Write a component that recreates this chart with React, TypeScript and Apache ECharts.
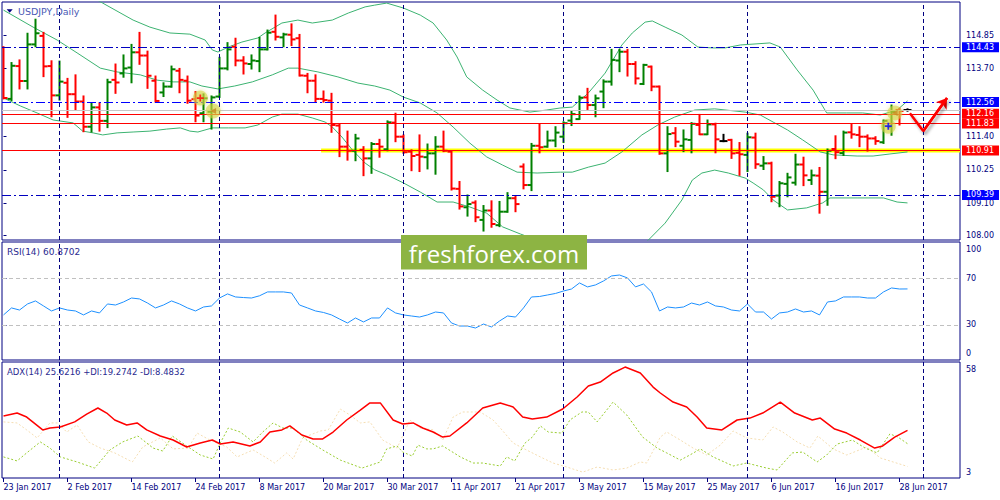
import React, { useEffect, useRef } from "react";
import * as echarts from "echarts";

// ---------------- data ----------------
const dateLabels = ["23 Jan 2017", "2 Feb 2017", "14 Feb 2017", "24 Feb 2017", "8 Mar 2017", "20 Mar 2017", "30 Mar 2017", "11 Apr 2017", "21 Apr 2017", "3 May 2017", "15 May 2017", "25 May 2017", "6 Jun 2017", "16 Jun 2017", "28 Jun 2017"];
const dateLabelBars = [0, 8, 16, 24, 32, 40, 48, 56, 64, 72, 80, 88, 96, 104, 112];
const monthStartBars = [7, 27, 50, 70, 93, 115];

const opens = [114.42, 112.67, 113.79, 113.28, 114.53, 114.82, 113.79, 112.79, 113.22, 112.83,
  112.58, 111.72, 112.38, 111.92, 113.32, 113.54, 113.74, 114.26, 114.15, 113.29,
  112.89, 113.09, 113.63, 113.29, 112.66, 112.18, 112.23, 112.75, 113.71, 114.45,
  113.98, 113.86, 113.96, 114.36, 114.96, 114.77, 114.86, 114.74, 113.46, 113.29,
  112.67, 112.61, 111.76, 111.04, 110.90, 110.93, 110.64, 111.13, 110.95, 111.86,
  111.38, 110.87, 110.76, 110.68, 110.81, 111.04, 110.87, 109.60, 108.97, 109.13,
  108.54, 108.86, 108.36, 108.82, 109.28, 110.36, 109.73, 111.07, 111.04, 111.25,
  111.38, 111.93, 111.98, 112.72, 112.46, 112.92, 113.26, 113.98, 114.28, 113.86,
  113.18, 113.77, 113.09, 110.81, 111.50, 111.07, 111.27, 111.78, 111.46, 111.80,
  111.23, 111.27, 110.83, 110.76, 111.35, 110.39, 110.47, 109.37, 109.77, 109.81,
  110.43, 109.90, 110.05, 109.50, 110.96, 110.82, 111.53, 111.44, 111.38, 111.32,
  111.19, 111.72, 112.29, 112.29];
const highs = [114.45, 113.91, 114.00, 114.91, 115.39, 114.94, 113.97, 113.96, 113.37, 113.49,
  112.77, 112.54, 112.54, 113.34, 113.86, 114.17, 114.53, 114.94, 114.30, 113.45,
  113.22, 113.79, 113.71, 113.45, 112.92, 112.84, 112.77, 114.09, 114.59, 114.74,
  114.11, 114.17, 114.77, 115.02, 115.53, 114.91, 115.23, 114.87, 113.54, 113.49,
  112.94, 112.86, 111.81, 111.57, 111.46, 111.04, 111.18, 111.29, 111.92, 112.18,
  111.44, 110.93, 111.44, 111.13, 111.38, 111.57, 110.90, 109.85, 109.39, 109.19,
  109.03, 109.19, 109.17, 109.47, 109.37, 110.45, 111.15, 111.80, 111.57, 111.72,
  111.89, 112.26, 112.77, 113.03, 112.80, 113.32, 114.36, 114.36, 114.36, 113.94,
  113.85, 113.79, 113.11, 111.72, 111.69, 111.61, 111.86, 112.14, 111.95, 111.84,
  111.46, 111.29, 111.18, 111.50, 111.50, 110.70, 110.51, 109.85, 110.13, 110.78,
  110.68, 110.24, 110.33, 110.96, 111.41, 111.57, 111.80, 111.72, 111.44, 111.38,
  111.95, 112.46, 112.35, 112.33];
const lows = [112.67, 112.61, 113.01, 113.01, 114.45, 113.43, 112.06, 112.63, 112.04, 112.29,
  111.55, 111.54, 111.57, 111.69, 112.86, 113.41, 113.22, 113.85, 113.03, 112.56,
  112.75, 113.07, 112.88, 112.52, 111.89, 111.89, 111.64, 112.72, 113.66, 113.80,
  113.52, 113.69, 113.60, 114.34, 114.68, 114.45, 114.49, 113.45, 112.88, 112.56,
  112.56, 111.53, 110.70, 110.58, 110.56, 110.05, 110.13, 110.68, 110.90, 111.21,
  110.81, 110.22, 110.19, 110.28, 110.10, 110.87, 109.56, 108.91, 108.67, 108.48,
  108.16, 108.29, 108.31, 108.80, 108.82, 109.60, 109.54, 110.83, 111.02, 111.04,
  111.18, 111.76, 111.97, 112.31, 112.06, 112.37, 113.14, 113.60, 113.45, 113.18,
  113.16, 112.95, 110.78, 110.19, 111.04, 110.87, 110.83, 111.45, 111.45, 110.83,
  111.21, 110.64, 110.06, 110.19, 110.30, 110.26, 109.16, 108.99, 109.33, 109.73,
  109.71, 109.75, 108.77, 109.04, 110.63, 110.74, 111.33, 111.04, 110.89, 111.12,
  111.15, 111.43, 111.78, 112.25];
const closes = [112.70, 113.80, 113.28, 114.53, 114.91, 113.78, 112.79, 113.26, 112.83, 112.58,
  111.72, 112.38, 111.92, 113.24, 113.23, 113.71, 114.26, 114.15, 113.46, 112.60,
  113.09, 113.68, 113.32, 112.61, 112.10, 112.69, 112.72, 113.71, 114.36, 113.98,
  113.88, 113.98, 114.36, 114.93, 114.79, 114.87, 114.70, 113.47, 113.29, 112.67,
  112.63, 111.78, 111.04, 110.90, 111.32, 110.64, 111.13, 111.04, 111.87, 111.38,
  110.85, 110.72, 110.70, 110.81, 111.04, 110.90, 109.61, 109.00, 109.08, 108.63,
  108.86, 108.40, 108.82, 109.28, 109.08, 109.73, 111.07, 111.02, 111.25, 111.52,
  111.84, 112.15, 112.71, 112.46, 112.69, 113.26, 114.00, 114.28, 113.86, 113.37,
  113.83, 113.09, 110.81, 111.47, 111.21, 111.29, 111.82, 111.46, 111.80, 111.29,
  111.23, 110.81, 110.78, 111.36, 110.44, 110.47, 109.33, 109.79, 109.99, 110.43,
  110.06, 110.06, 109.50, 110.90, 110.85, 111.52, 111.46, 111.38, 111.32, 111.23,
  111.92, 112.23, 112.26, 112.29];

// Bollinger bands read at [bar, price]
const bbUpper = [[0, 117.8], [4, 117.2], [8, 116.6], [12.4, 115.94], [16.2, 115.36], [18.3, 115.12], [20.8, 114.92], [23.3, 114.88], [25.2, 114.68], [26.1, 114.34], [26.8, 114.27], [28.1, 114.44], [29.8, 114.61], [31.8, 114.75], [32.7, 114.92], [34.8, 115.26], [36.8, 115.36], [38.6, 115.26], [41.1, 115.36], [43.1, 115.60], [45.2, 115.81], [46.4, 115.87], [47.9, 115.94], [50.0, 115.77], [52.1, 115.53], [53.7, 115.26], [55.4, 114.68], [56.7, 114.10], [57.9, 113.42], [59.9, 112.97], [61.7, 112.63], [63.3, 112.36], [65.8, 112.22], [67.9, 112.29], [69.6, 112.36], [71.1, 112.39], [73.1, 112.87], [75.2, 113.55], [77.3, 114.51], [78.6, 114.92], [80.2, 115.29], [81.1, 115.33], [82.7, 115.12], [84.8, 114.85], [86.8, 114.44], [88.6, 114.41], [90.2, 114.41], [92.1, 114.51], [95.8, 114.58], [97.1, 114.44], [99.2, 113.66], [101.2, 112.97], [102.9, 112.19], [105.4, 112.19], [107.4, 112.19], [109.6, 112.12], [111.7, 112.29], [113, 112.60]];
const bbMiddle = [[0, 115.70], [3.7, 115.12], [6.7, 114.68], [9.2, 114.24], [12.1, 113.72], [14.2, 113.59], [17.1, 113.49], [19.2, 113.31], [21.2, 113.25], [23.3, 113.25], [24.8, 113.11], [26.8, 113.01], [28.9, 113.11], [31.1, 113.25], [33.6, 113.49], [35.6, 113.72], [36.8, 113.72], [39.3, 113.59], [41.8, 113.42], [44.3, 113.21], [46.4, 113.11], [48.3, 112.97], [50.0, 112.73], [52.1, 112.53], [54.2, 112.19], [56.2, 111.71], [58.3, 111.16], [60.4, 110.69], [62.4, 110.41], [64.2, 110.17], [66.7, 110.14], [69.6, 110.17], [71.1, 110.17], [73.1, 110.34], [75.2, 110.48], [77.3, 110.86], [79.8, 111.44], [81.8, 111.78], [83.9, 112.05], [86.4, 112.29], [88.9, 112.33], [92.7, 112.22], [94.6, 112.12], [96.2, 111.88], [98.0, 111.61], [99.9, 111.27], [102.1, 110.86], [103.7, 110.76], [106.7, 110.72], [108.7, 110.72], [110.8, 110.79], [113, 110.86]];
const bbLower = [[0, 112.70], [2.1, 112.43], [4.2, 112.19], [6.2, 111.95], [8.7, 111.85], [9.9, 111.57], [11.2, 111.51], [12.4, 111.44], [14.2, 111.51], [16.2, 111.54], [18.3, 111.57], [20.4, 111.64], [22.1, 111.68], [23.3, 111.57], [24.3, 111.54], [26.1, 111.68], [28.1, 111.68], [30.2, 111.68], [31.8, 111.78], [33.6, 112.05], [34.8, 112.15], [36.8, 112.15], [38.6, 112.02], [40.2, 111.88], [41.1, 111.71], [42.3, 111.37], [43.6, 110.93], [45.2, 110.48], [46.4, 110.25], [47.9, 110.08], [50.0, 109.80], [52.1, 109.49], [54.2, 109.15], [56.2, 109.15], [58.3, 108.98], [60.4, 108.77], [62.4, 108.30], [64.6, 108.06], [66.7, 107.85], [69, 107.7], [72, 107.5], [75, 107.3], [77, 107.2], [79, 107.45], [80.6, 107.85], [82.7, 108.43], [84.8, 109.22], [86.1, 109.90], [87.3, 110.14], [88.9, 110.24], [90.6, 110.14], [92.7, 109.97], [93.7, 109.80], [95.0, 109.56], [96.2, 109.22], [98.0, 108.88], [100.4, 108.95], [102.4, 109.12], [103.3, 109.29], [106.7, 109.29], [110.0, 109.29], [111.7, 109.15], [113, 109.12]];

const rsiValues = [38.6, 44.6, 42.8, 48.0, 50.6, 46.3, 42.0, 44.6, 42.8, 42.0,
  38.6, 42.0, 40.3, 48.0, 47.1, 49.7, 53.1, 52.3, 48.8, 44.6,
  47.1, 50.6, 48.0, 44.6, 42.0, 45.4, 46.3, 53.1, 56.6, 54.0,
  53.5, 53.1, 55.0, 58.3, 58.3, 58.3, 57.4, 47.1, 44.6, 42.0,
  40.7, 38.6, 35.1, 31.7, 36.0, 32.6, 36.0, 36.0, 44.6, 40.3,
  38.6, 37.7, 36.8, 38.6, 41.1, 40.3, 31.7, 29.1, 29.1, 27.4,
  30.8, 28.3, 33.4, 37.7, 36.8, 44.6, 54.0, 54.4, 55.7, 57.0,
  59.1, 60.8, 66.0, 62.6, 64.3, 67.7, 72.0, 72.8, 70.3, 62.6,
  65.1, 58.3, 42.0, 45.4, 44.6, 45.4, 48.8, 47.1, 49.7, 46.3,
  45.4, 42.8, 42.0, 48.0, 41.1, 41.1, 35.1, 40.3, 41.1, 43.7,
  41.1, 42.0, 38.6, 49.7, 50.6, 54.0, 54.0, 54.0, 53.1, 53.1,
  58.3, 61.7, 60.8, 60.87];

const adxLine = [[0, 32.4], [1.7, 33.8], [2.9, 31.9], [4.9, 25.8], [5.8, 26.7], [7.1, 27.2], [8.9, 29.6], [10.4, 33.3], [11.8, 36.2], [12.9, 33.8], [13.9, 30.5], [15.4, 28.1], [16.7, 29.1], [17.9, 25.8], [19.6, 22.9], [21.2, 21.0], [22.9, 17.7], [24.6, 19.6], [26.1, 21.0], [27.1, 19.1], [28.7, 20.1], [30.8, 18.2], [32.1, 20.1], [33.3, 24.8], [34.8, 25.8], [35.8, 27.7], [37.3, 23.4], [38.7, 21.5], [39.9, 21.5], [41.2, 24.8], [42.9, 30.5], [44.6, 35.2], [45.8, 38.6], [47.1, 38.6], [48.7, 30.5], [49.9, 28.6], [51.2, 29.1], [52.4, 26.7], [53.7, 24.8], [54.9, 22.4], [55.8, 22.9], [57.9, 29.1], [59.9, 36.2], [62.1, 38.6], [63.7, 36.7], [64.9, 31.9], [66.1, 31.0], [67.9, 31.9], [69.9, 35.7], [71.7, 41.4], [73.1, 46.6], [74.6, 48.5], [76.2, 52.8], [77.7, 55.6], [79.6, 52.8], [81.2, 46.1], [82.1, 43.3], [83.7, 39.0], [85.4, 36.7], [86.7, 31.9], [87.9, 26.7], [89.8, 25.8], [91.7, 30.5], [93.3, 31.4], [94.9, 33.8], [97.1, 39.0], [98.9, 33.8], [101.1, 30.5], [102.1, 31.4], [103.9, 26.2], [105.4, 24.3], [107.1, 21.0], [108.9, 17.2], [109.9, 18.2], [111.4, 22.4], [113, 25.62]];
const plusDI = [[0, 13.0], [1.7, 11.1], [2.9, 14.9], [4.6, 20.1], [5.8, 17.2], [7.1, 13.0], [9.2, 10.6], [11.4, 7.7], [13.3, 16.3], [14.9, 20.1], [16.8, 22.9], [18.7, 17.2], [19.9, 15.8], [21.1, 22.9], [22.9, 18.2], [24.6, 13.9], [26.2, 12.0], [27.1, 19.6], [28.1, 26.7], [29.6, 24.8], [31.2, 20.1], [32.4, 24.8], [33.7, 29.1], [34.9, 26.7], [36.2, 26.7], [37.9, 21.0], [39.9, 16.3], [42.1, 11.5], [44.8, 7.7], [47.1, 10.6], [47.9, 16.8], [49.2, 18.2], [49.9, 15.3], [51.1, 13.4], [51.8, 18.6], [52.9, 16.8], [53.7, 16.8], [54.9, 18.2], [57.1, 13.0], [58.7, 10.1], [59.9, 10.1], [62.1, 8.7], [62.9, 13.0], [63.9, 11.1], [65.2, 19.6], [66.1, 22.4], [67.1, 27.7], [68.1, 24.8], [69.8, 24.3], [70.8, 30.5], [72.3, 34.3], [73.1, 34.3], [74.2, 29.6], [75.2, 34.3], [76.2, 39.0], [77.9, 32.9], [79.9, 22.4], [81.7, 17.2], [82.9, 14.9], [84.6, 11.5], [85.8, 13.9], [87.1, 16.8], [88.7, 13.0], [91.2, 8.7], [92.9, 10.1], [95.4, 7.7], [96.7, 6.8], [98.6, 14.9], [99.9, 15.3], [101.7, 10.6], [102.9, 13.9], [104.2, 19.1], [106.1, 21.0], [107.7, 17.2], [109.2, 14.9], [110.8, 23.9], [111.8, 22.4], [113, 19.27]];
const minusDI = [[0, 29.6], [1.7, 29.1], [2.9, 25.8], [4.2, 22.0], [5.8, 29.1], [6.8, 29.1], [7.9, 24.8], [9.2, 28.1], [10.6, 20.1], [12.1, 17.2], [13.9, 14.9], [16.1, 10.6], [17.4, 17.7], [19.6, 22.0], [21.2, 16.8], [23.1, 17.2], [24.2, 24.3], [25.8, 21.0], [27.9, 17.7], [29.2, 13.0], [31.2, 16.3], [32.9, 12.5], [33.9, 10.1], [35.4, 14.9], [36.2, 12.0], [37.4, 22.0], [39.6, 25.3], [40.6, 25.8], [42.1, 35.7], [43.3, 32.9], [44.6, 29.1], [45.8, 29.6], [47.4, 21.0], [49.2, 17.2], [50.8, 30.5], [52.1, 26.7], [53.7, 25.8], [54.9, 21.0], [56.2, 31.9], [57.4, 34.3], [59.6, 34.3], [61.2, 30.5], [62.1, 26.7], [63.7, 19.6], [64.9, 17.2], [67.1, 13.0], [68.7, 10.1], [70.4, 8.2], [72.4, 5.8], [74.2, 8.2], [76.2, 6.8], [77.9, 7.7], [79.6, 10.6], [80.4, 10.1], [82.1, 22.4], [82.9, 24.8], [84.6, 21.0], [86.2, 17.2], [87.9, 13.9], [89.6, 18.6], [91.2, 25.3], [92.9, 22.0], [94.9, 21.0], [96.2, 27.2], [97.4, 24.8], [99.2, 20.1], [100.8, 17.2], [101.8, 22.9], [103.7, 16.8], [105.4, 13.9], [107.9, 17.7], [109.6, 12.5], [111.2, 10.6], [113, 8.48]];

const priceTicks = [114.85, 113.70, 112.56, 111.40, 110.25, 109.10, 108.00];
const resistanceLevels = [114.43, 109.39];
const pivotLevel = 112.56;
const redLevels = [112.16, 111.83, 110.91];
const bidPrice = 112.29;
const supportLevel = 110.91;
const supportStartBar = 39.7;
const rsiLevels = [30, 70];
const rsiTicks = [0, 30, 70, 100];
const adxTicks = [3, 58];
const highlightPoints = [[24.6, 112.70], [26.2, 112.26], [110.6, 111.74], [111.4, 112.19]];
const buyMarks = [[24.6, 112.70], [110.6, 111.74]];
const closeMarks = [[26.2, 112.26], [111.4, 112.19]];
const arrowPath = [[113.3, 112.18], [114.97, 111.57], [117.94, 112.70]];

// ---------------- layout ----------------
const FONT = "DejaVu Sans";
const NAVY = "#000080";
const X_MIN = -0.1875;
const X_MAX = 119.5625;
const P_MAX = 115.977;
const P_MIN = 107.854;
const RSI_MAX = 101.07;
const GRID_L = 2;
const GRID_W = 958;

function buildOption() {
  const ohlc = opens.map((o, i) => [i, o, highs[i], lows[i], closes[i]]);
  const supportLine = [[supportStartBar, supportLevel], [X_MAX, supportLevel]];
  const sepLines = monthStartBars.map((b) => ({ xAxis: b, lineStyle: { color: NAVY, type: [4, 3], width: 1 } }));
  const boxLabel = (bg: string) => ({
    show: true, position: "end", distance: 2, formatter: (p: any) => Number(p.value).toFixed(2),
    backgroundColor: bg, color: "#fff", padding: [1, 5, 1, 4], fontSize: 8, fontFamily: FONT,
  });
  const levelLines: any[] = [];
  resistanceLevels.forEach((v) => levelLines.push({ yAxis: v, lineStyle: { color: "#0000c0", type: [9, 3, 2, 3], width: 1 }, label: boxLabel("#0000ff") }));
  levelLines.push({ yAxis: pivotLevel, lineStyle: { color: "#0000ff", type: [9, 3, 2, 3], width: 1 }, label: boxLabel("#0000ff") });
  levelLines.push({ yAxis: bidPrice, lineStyle: { color: "#c8c8c8", type: "solid", width: 1 }, label: { show: false } });
  redLevels.forEach((v) => levelLines.push({ yAxis: v, lineStyle: { color: "#ff0000", type: "solid", width: 1 }, label: boxLabel("#ff0000") }));

  const axisLabelBase = { color: NAVY, fontSize: 8, fontFamily: FONT };

  return {
    animation: false,
    textStyle: { fontFamily: FONT },
    grid: [
      { left: GRID_L, top: 2, width: GRID_W, height: 238, show: true, borderColor: NAVY, borderWidth: 1, backgroundColor: "#fff" },
      { left: GRID_L, top: 242, width: GRID_W, height: 118, show: true, borderColor: NAVY, borderWidth: 1, backgroundColor: "#fff" },
      { left: GRID_L, top: 362, width: GRID_W, height: 116, show: true, borderColor: NAVY, borderWidth: 1, backgroundColor: "#fff" },
    ],
    xAxis: [
      { type: "value", gridIndex: 0, min: X_MIN, max: X_MAX, show: false },
      { type: "value", gridIndex: 1, min: X_MIN, max: X_MAX, show: false },
      {
        type: "value", gridIndex: 2, min: X_MIN, max: X_MAX, position: "bottom",
        axisLine: { show: false }, splitLine: { show: false },
        axisTick: { show: true, customValues: dateLabelBars, length: 4, lineStyle: { color: NAVY } },
        axisLabel: {
          ...axisLabelBase, customValues: dateLabelBars, align: "left", margin: 5,
          formatter: (v: number) => dateLabels[dateLabelBars.indexOf(Math.round(v))] ?? "",
        },
      },
    ],
    yAxis: [
      {
        type: "value", gridIndex: 0, position: "right", min: P_MIN, max: P_MAX,
        axisLine: { show: false }, splitLine: { show: false },
        axisTick: { show: true, customValues: priceTicks, length: 3, lineStyle: { color: NAVY } },
        axisLabel: { ...axisLabelBase, customValues: priceTicks, margin: 6, formatter: (v: number) => v.toFixed(2) },
      },
      {
        type: "value", gridIndex: 1, position: "right", min: 0, max: RSI_MAX,
        axisLine: { show: false }, splitLine: { show: false },
        axisTick: { show: true, customValues: rsiLevels, length: 3, lineStyle: { color: NAVY } },
        axisLabel: {
          ...axisLabelBase, customValues: rsiTicks, margin: 6,
          formatter: (v: number) => (v === 100 ? "{t|100}" : v === 0 ? "{b|0}" : String(v)),
          rich: {
            t: { padding: [12, 0, 0, 0], color: NAVY, fontSize: 8, fontFamily: FONT },
            b: { padding: [0, 0, 13, 0], color: NAVY, fontSize: 8, fontFamily: FONT },
          },
        },
      },
      {
        type: "value", gridIndex: 2, position: "right", min: 3, max: 58,
        axisLine: { show: false }, splitLine: { show: false },
        axisTick: { show: false },
        axisLabel: {
          ...axisLabelBase, customValues: adxTicks, margin: 6,
          formatter: (v: number) => (v === 58 ? "{t|58}" : "{b|3}"),
          rich: {
            t: { padding: [14, 0, 0, 0], color: NAVY, fontSize: 8, fontFamily: FONT },
            b: { padding: [0, 0, 11, 0], color: NAVY, fontSize: 8, fontFamily: FONT },
          },
        },
      },
    ],
    series: [
      {
        type: "line", name: "supportShadow", xAxisIndex: 0, yAxisIndex: 0, data: supportLine, symbol: "none", z: 1, silent: true,
        lineStyle: { color: "rgba(90,90,90,0.25)", width: 7, shadowColor: "rgba(0,0,0,0.35)", shadowBlur: 6, shadowOffsetY: 4 },
      },
      {
        type: "line", name: "support", xAxisIndex: 0, yAxisIndex: 0, data: supportLine, symbol: "none", z: 1, silent: true,
        lineStyle: { color: "#ffff00", width: 4 },
      },
      {
        type: "line", name: "bbUpper", xAxisIndex: 0, yAxisIndex: 0, data: bbUpper, symbol: "none", z: 1,
        lineStyle: { color: "#3cb371", width: 1 }, clip: true,
        markLine: { silent: true, symbol: ["none", "none"], label: { show: false }, data: sepLines },
      },
      {
        type: "line", name: "bbLower", xAxisIndex: 0, yAxisIndex: 0, data: bbLower, symbol: "none", z: 1,
        lineStyle: { color: "#3cb371", width: 1 }, clip: true,
      },
      {
        type: "line", name: "bbMiddle", xAxisIndex: 0, yAxisIndex: 0, data: bbMiddle, symbol: "none", z: 2,
        lineStyle: { color: "#3cb371", width: 1 }, clip: true,
        markLine: { silent: true, symbol: ["none", "none"], data: levelLines },
      },
      {
        type: "custom", name: "bars", xAxisIndex: 0, yAxisIndex: 0, data: ohlc, z: 3, clip: true,
        encode: { x: 0, y: [1, 2, 3, 4] },
        renderItem: (_params: any, api: any) => {
          const i = api.value(0);
          const o = api.value(1), h = api.value(2), l = api.value(3), c = api.value(4);
          const pH = api.coord([i, h]);
          const pL = api.coord([i, l]);
          const pO = api.coord([i, o]);
          const pC = api.coord([i, c]);
          const color = c > o ? "#008000" : c < o ? "#ff0000" : "#000000";
          const x = pH[0];
          const st = { stroke: color, lineWidth: 2 };
          return {
            type: "group",
            children: [
              { type: "line", shape: { x1: x, y1: pH[1] - 0.5, x2: x, y2: pL[1] + 0.5 }, style: st },
              { type: "line", shape: { x1: x - 4, y1: pO[1], x2: x, y2: pO[1] }, style: st },
              { type: "line", shape: { x1: x, y1: pC[1], x2: x + 4, y2: pC[1] }, style: st },
            ],
          };
        },
      },
      {
        type: "scatter", name: "highlights", xAxisIndex: 0, yAxisIndex: 0, data: highlightPoints, z: 5,
        symbol: "circle", symbolSize: 15, silent: true,
        itemStyle: { color: "rgba(214,214,70,0.72)", shadowColor: "rgba(200,200,40,0.6)", shadowBlur: 4 },
      },
      {
        type: "scatter", name: "buyMarks", xAxisIndex: 0, yAxisIndex: 0, data: buyMarks, z: 6, silent: true,
        symbol: "path://M3,0h2v3h3v2h-3v3h-2v-3h-3v-2h3z", symbolSize: 7,
        itemStyle: { color: (p: any) => (p.dataIndex === 0 ? "#ff0000" : "#0000ff") },
      },
      {
        type: "scatter", name: "closeMarks", xAxisIndex: 0, yAxisIndex: 0, data: closeMarks, z: 6, silent: true,
        symbol: "triangle", symbolSize: [6, 6], symbolRotate: 90,
        itemStyle: { color: "#c88a20" },
      },
      {
        type: "line", name: "arrow", xAxisIndex: 0, yAxisIndex: 0, data: arrowPath, symbol: "none", z: 7, silent: true,
        clip: false,
        lineStyle: { color: "#ff0000", width: 2.5, shadowColor: "rgba(0,0,0,0.35)", shadowBlur: 3, shadowOffsetX: 2, shadowOffsetY: 3 },
        markLine: {
          silent: true, symbol: ["none", "arrow"], symbolSize: 10, label: { show: false },
          lineStyle: { color: "#ff0000", width: 2.5, type: "solid" },
          data: [[{ coord: arrowPath[1] }, { coord: arrowPath[2] }]],
        },
      },
      {
        type: "line", name: "RSI", xAxisIndex: 1, yAxisIndex: 1, data: rsiValues.map((v, i) => [i, v]), symbol: "none",
        lineStyle: { color: "#1e90ff", width: 1 }, z: 3,
        markLine: {
          silent: true, symbol: ["none", "none"], label: { show: false },
          data: [
            ...rsiLevels.map((v) => ({ yAxis: v, lineStyle: { color: "#c0c0c0", type: [4, 3], width: 1 } })),
            ...sepLines,
          ],
        },
      },
      {
        type: "line", name: "-DI", xAxisIndex: 2, yAxisIndex: 2, data: minusDI, symbol: "none", z: 2,
        lineStyle: { color: "#f5deb3", width: 1, type: [2, 2] },
        markLine: { silent: true, symbol: ["none", "none"], label: { show: false }, data: sepLines },
      },
      {
        type: "line", name: "+DI", xAxisIndex: 2, yAxisIndex: 2, data: plusDI, symbol: "none", z: 3,
        lineStyle: { color: "#9acd32", width: 1, type: [2, 2] },
      },
      {
        type: "line", name: "ADX", xAxisIndex: 2, yAxisIndex: 2, data: adxLine, symbol: "none", z: 4,
        lineStyle: { color: "#ff0000", width: 1.5 },
      },
    ],
    graphic: [
      { type: "polygon", shape: { points: [[6.7, 9.3], [12.7, 9.3], [9.7, 12.7]] }, style: { fill: NAVY }, z: 100 },
      { type: "text", x: 18, y: 6, style: { text: "USDJPY,Daily", fill: "#4a5ab5", font: `9.5px "${FONT}"`, textVerticalAlign: "top" }, z: 100 },
      { type: "text", x: 7, y: 247, style: { text: "RSI(14) 60.8702", fill: "#2a2a90", font: `9px "${FONT}"`, textVerticalAlign: "top" }, z: 100 },
      { type: "text", x: 7, y: 367.5, style: { text: "ADX(14) 25.6216 +DI:19.2742 -DI:8.4832", fill: "#2a2a90", font: `8.5px "${FONT}"`, textVerticalAlign: "top" }, z: 100 },
      { type: "rect", shape: { x: 401, y: 235, width: 186, height: 34.5 }, style: { fill: "#8db443" }, z: 100 },
      { type: "text", x: 494, y: 253, style: { text: "freshforex.com", fill: "#ffffff", font: `24px "Open Sans"`, textAlign: "center", textVerticalAlign: "middle" }, z: 101 },
    ],
  };
}

export default function App() {
  const ref = useRef<HTMLDivElement>(null);
  useEffect(() => {
    if (!ref.current) return;
    const chart = echarts.init(ref.current, null, { renderer: "svg" });
    chart.setOption(buildOption() as any);
    return () => chart.dispose();
  }, []);
  return (
    <div
      ref={ref}
      style={{ position: "fixed", left: 0, top: 0, width: 1000, height: 500, background: "#fff" }}
    />
  );
}
